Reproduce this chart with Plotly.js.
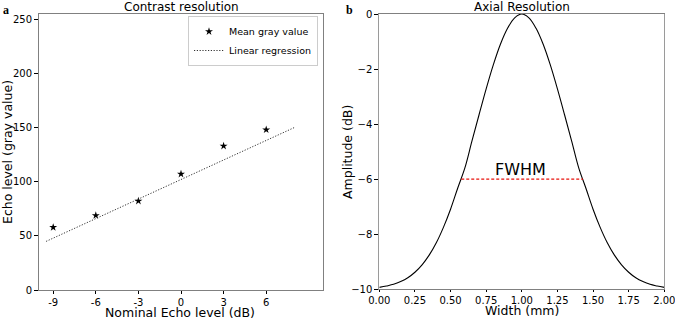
<!DOCTYPE html>
<html>
<head>
<meta charset="utf-8">
<script src="https://cdn.plot.ly/plotly-3.0.1.min.js"></script>
<style>html,body{margin:0;padding:0;background:#fff;}#chart{width:675px;height:319px;}</style>
</head>
<body>
<div id="chart"></div>
<script>
// Panel a: contrast resolution
const nominalEchoDb = [-9, -6, -3, 0, 3, 6];
const meanGrayValue = [58, 69, 82.4, 107.4, 133.3, 148.4];
const regressionX = [-9.5, 8];
const regressionY = [45, 150.5];
const echoTickVals = [-9, -6, -3, 0, 3, 6];
const echoTickText = ['-9', '-6', '-3', '0', '3', '6'];

// Panel b: axial resolution
const widthMm = [0, 0.05, 0.1, 0.15, 0.2, 0.25, 0.3, 0.35, 0.4, 0.45, 0.5,
  0.55, 0.6, 0.65, 0.7, 0.75, 0.8, 0.85, 0.9, 0.95, 1.0,
  1.05, 1.1, 1.15, 1.2, 1.25, 1.3, 1.35, 1.4, 1.45, 1.5,
  1.55, 1.6, 1.65, 1.7, 1.75, 1.8, 1.85, 1.9, 1.95, 2.0];
const amplitudeDb = [-9.93, -9.88, -9.82, -9.72, -9.58, -9.38, -9.11, -8.76, -8.31, -7.75, -7.09,
  -6.33, -5.6, -4.62, -3.66, -2.72, -1.85, -1.1, -0.52, -0.14, 0,
  -0.14, -0.52, -1.1, -1.85, -2.72, -3.66, -4.62, -5.6, -6.33, -7.09,
  -7.75, -8.31, -8.76, -9.11, -9.38, -9.58, -9.72, -9.82, -9.88, -9.93];
const fwhmX = [0.575, 1.43];
const fwhmY = [-6, -6];

const FONT = 'DejaVu Sans, sans-serif';
const W = 675, H = 319;

const traces = [
  {x: nominalEchoDb, y: meanGrayValue, type: 'scatter', mode: 'markers', name: 'Mean gray value',
   marker: {symbol: 'star', size: 6, color: '#000'}, xaxis: 'x', yaxis: 'y'},
  {x: regressionX, y: regressionY, type: 'scatter', mode: 'lines', name: 'Linear regression',
   line: {color: '#333', width: 1, dash: '1.2px,1.6px'}, xaxis: 'x', yaxis: 'y'},
  {x: widthMm, y: amplitudeDb, type: 'scatter', mode: 'lines', showlegend: false,
   line: {color: '#000', width: 1.1, shape: 'spline'}, xaxis: 'x2', yaxis: 'y2'},
  {x: fwhmX, y: fwhmY, type: 'scatter', mode: 'lines', showlegend: false,
   line: {color: '#e8120c', width: 1.2, dash: '3px,2px'}, xaxis: 'x2', yaxis: 'y2'}
];

const axBase = {
  showgrid: false, zeroline: false, showline: true, mirror: true, linecolor: '#808080', linewidth: 1,
  ticks: 'outside', ticklen: 4, tickcolor: '#000', tickwidth: 1, ticklabeloverflow: 'allow',
  tickfont: {family: FONT, size: 10, color: '#000'}, automargin: false
};

const titleFont = {family: FONT, size: 12.5, color: '#000'};
function ann(text, x, y, font, extra) {
  return Object.assign({text: text, xref: 'paper', yref: 'paper', x: x / W, y: 1 - y / H,
    xanchor: 'center', yanchor: 'middle', showarrow: false, borderpad: 0, font: font}, extra || {});
}

const layout = {
  width: W, height: H,
  margin: {l: 0, r: 0, t: 0, b: 0},
  paper_bgcolor: '#fff', plot_bgcolor: '#fff',
  font: {family: FONT, color: '#000'},
  showlegend: true,
  legend: {x: 318 / W, xanchor: 'right', y: 1 - 16 / H, yanchor: 'top',
    bordercolor: '#cccccc', borderwidth: 1, bgcolor: '#fff',
    font: {family: FONT, size: 9.5, color: '#000'}, tracegroupgap: 0, itemwidth: 30},
  xaxis: Object.assign({}, axBase, {domain: [39 / W, 323 / W], range: [-10, 10],
    tickvals: echoTickVals, ticktext: echoTickText, anchor: 'y', ticklen: 3}),
  yaxis: Object.assign({}, axBase, {domain: [1 - 290 / H, 1 - 14 / H], range: [0, 255.5], dtick: 50, anchor: 'x'}),
  xaxis2: Object.assign({}, axBase, {domain: [379.3 / W, 664.3 / W], range: [0, 2], dtick: 0.25, tickformat: '.2f', anchor: 'y2',
    ticklen: 2}),
  yaxis2: Object.assign({}, axBase, {domain: [1 - 289.3 / H, 1 - 14 / H], range: [-10, 0], dtick: 2, anchor: 'x2',
    linecolor: '#9a9a9a'}),
  annotations: [
    ann('Contrast resolution', 181, 7, {family: FONT, size: 12, color: '#000'}),
    ann('Axial Resolution', 521.8, 7, {family: FONT, size: 12, color: '#000'}),
    ann('<b>a</b>', 6, 10, {family: 'Liberation Serif, serif', size: 12, color: '#000'}),
    ann('<b>b</b>', 349, 10, {family: 'Liberation Serif, serif', size: 12, color: '#000'}),
    ann('Nominal Echo level (dB)', 180, 312, titleFont),
    ann('Width (mm)', 522, 310.5, titleFont),
    ann('Echo level (gray value)', 7, 152, titleFont, {textangle: -90}),
    ann('Amplitude (dB)', 347, 152, titleFont, {textangle: -90}),
    {text: 'FWHM', xref: 'x2', yref: 'y2', x: 0.99, y: -5.64,
     xanchor: 'center', yanchor: 'middle', showarrow: false, font: {family: FONT, size: 16, color: '#000'}}
  ]
};

Plotly.newPlot('chart', traces, layout, {displayModeBar: false, staticPlot: true});
</script>
</body>
</html>
